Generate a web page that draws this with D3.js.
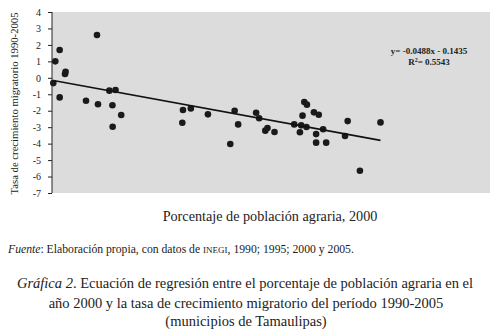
<!DOCTYPE html>
<html>
<head>
<meta charset="utf-8">
<script src="https://cdn.jsdelivr.net/npm/d3@7"></script>
<style>
  html, body { margin: 0; padding: 0; background: #fff; }
  svg { display: block; font-family: "Liberation Serif", "DejaVu Serif", serif; }
</style>
</head>
<body>
<div id="chart"></div>
<script>
// Scatter: % agrarian population 2000 vs migratory growth rate 1990-2005

const pctAgraria = [0.3, 0.75, 1.75, 1.75, 2.97, 3.1, 7.76, 10.27, 10.5, 13.1, 14.5, 13.8, 13.85, 15.8,
  29.75, 29.9, 31.7, 35.6, 40.7, 41.7, 42.5, 46.6, 47.3, 48.7, 49.2, 50.8, 55.3, 56.6, 56.9, 57.2,
  57.6, 58.2, 58.1, 59.8, 60.9, 60.3, 60.3, 61.9, 62.6, 66.9, 67.5, 70.3, 75.0];
const tasaMigr = [-0.32, 1.0, 1.69, -1.19, 0.23, 0.37, -1.39, 2.6, -1.61, -0.78, -0.74, -1.67, -2.97, -2.26,
  -2.73, -1.96, -1.86, -2.22, -4.02, -2.0, -2.83, -2.12, -2.46, -3.21, -3.05, -3.29, -2.83, -3.31, -2.89, -2.30,
  -1.47, -1.63, -2.99, -2.10, -2.24, -3.42, -3.94, -3.13, -3.94, -3.54, -2.63, -5.65, -2.71];
const yTicks = [4, 3, 2, 1, 0, -1, -2, -3, -4, -5, -6, -7];
const slope = -0.0488, intercept = -0.1435;
const eqLine = "y= -0.0488x - 0.1435";

const width = 492, height = 333;
const plot = { left: 52, right: 490, top: 12, bottom: 193 };

const svg = d3.select("#chart").append("svg")
  .attr("width", width)
  .attr("height", height);

const x = d3.scaleLinear().domain([0, 100]).range([plot.left, plot.right]);
const y = d3.scaleLinear().domain([-7, 4]).range([plot.bottom, plot.top]);

// gray plot area
svg.append("rect")
  .attr("x", plot.left).attr("y", plot.top)
  .attr("width", plot.right - plot.left)
  .attr("height", plot.bottom - plot.top)
  .attr("fill", "#dcdcdc");

// y axis
const yAxis = svg.append("g")
  .attr("transform", `translate(${plot.left},0)`)
  .call(d3.axisLeft(y).tickValues(yTicks).tickSize(4).tickPadding(7).tickFormat(d => d.toString().replace("−", "-")));
yAxis.select(".domain").attr("stroke", "#222").attr("d", `M0,${plot.top}V${plot.bottom}`);
yAxis.selectAll(".tick line").attr("stroke", "#222");
yAxis.selectAll("text")
  .style("font-family", "'Liberation Serif', serif")
  .style("font-size", "10px")
  .attr("fill", "#222");

// points
const pts = pctAgraria.map((v, i) => ({ x: v, y: tasaMigr[i] }));
svg.append("g").selectAll("circle")
  .data(pts)
  .join("circle")
  .attr("cx", d => x(d.x))
  .attr("cy", d => y(d.y))
  .attr("r", 3.3)
  .attr("fill", "#1a1a1a");

// trend line
const xExt = d3.extent(pctAgraria);
svg.append("line")
  .attr("x1", x(xExt[0])).attr("y1", y(slope * xExt[0] + intercept))
  .attr("x2", x(xExt[1])).attr("y2", y(slope * xExt[1] + intercept))
  .attr("stroke", "#111")
  .attr("stroke-width", 1.6);

// equation
const eq = svg.append("g").attr("font-size", "9px").attr("font-weight", "bold").attr("fill", "#222").attr("text-anchor", "middle");
eq.append("text").attr("x", 429).attr("y", 54).text(eqLine);
const r2 = eq.append("text").attr("x", 429).attr("y", 65);
r2.append("tspan").text("R");
r2.append("tspan").attr("dy", -3).attr("font-size", "6px").text("2");
r2.append("tspan").attr("dy", 3).text("= 0.5543");

// axis titles
svg.append("text")
  .attr("transform", `translate(18,${(plot.top + plot.bottom) / 2 + 1}) rotate(-90)`)
  .attr("text-anchor", "middle")
  .attr("font-size", "10.7px")
  .attr("fill", "#222")
  .text("Tasa de crecimiento migratorio 1990-2005");

svg.append("text")
  .attr("x", 270).attr("y", 221)
  .attr("text-anchor", "middle")
  .attr("font-size", "14.2px")
  .attr("fill", "#222")
  .text("Porcentaje de población agraria, 2000");

// source line
const src = svg.append("text")
  .attr("x", 8).attr("y", 253)
  .attr("font-size", "11.7px")
  .attr("fill", "#222");
src.append("tspan").attr("font-style", "italic").text("Fuente");
src.append("tspan").text(": Elaboración propia, con datos de ");
src.append("tspan").attr("font-size", "9px").text("INEGI");
src.append("tspan").text(", 1990; 1995; 2000 y 2005.");

// caption
const cap = svg.append("g").attr("font-size", "14.5px").attr("fill", "#222").attr("text-anchor", "middle");
const c1 = cap.append("text").attr("x", 245).attr("y", 288);
c1.append("tspan").attr("font-style", "italic").text("Gráfica 2");
c1.append("tspan").text(". Ecuación de regresión entre el porcentaje de población agraria en el");
cap.append("text").attr("x", 246).attr("y", 308).text("año 2000 y la tasa de crecimiento migratorio del período 1990-2005");
cap.append("text").attr("x", 246).attr("y", 326).text("(municipios de Tamaulipas)");
</script>
</body>
</html>
